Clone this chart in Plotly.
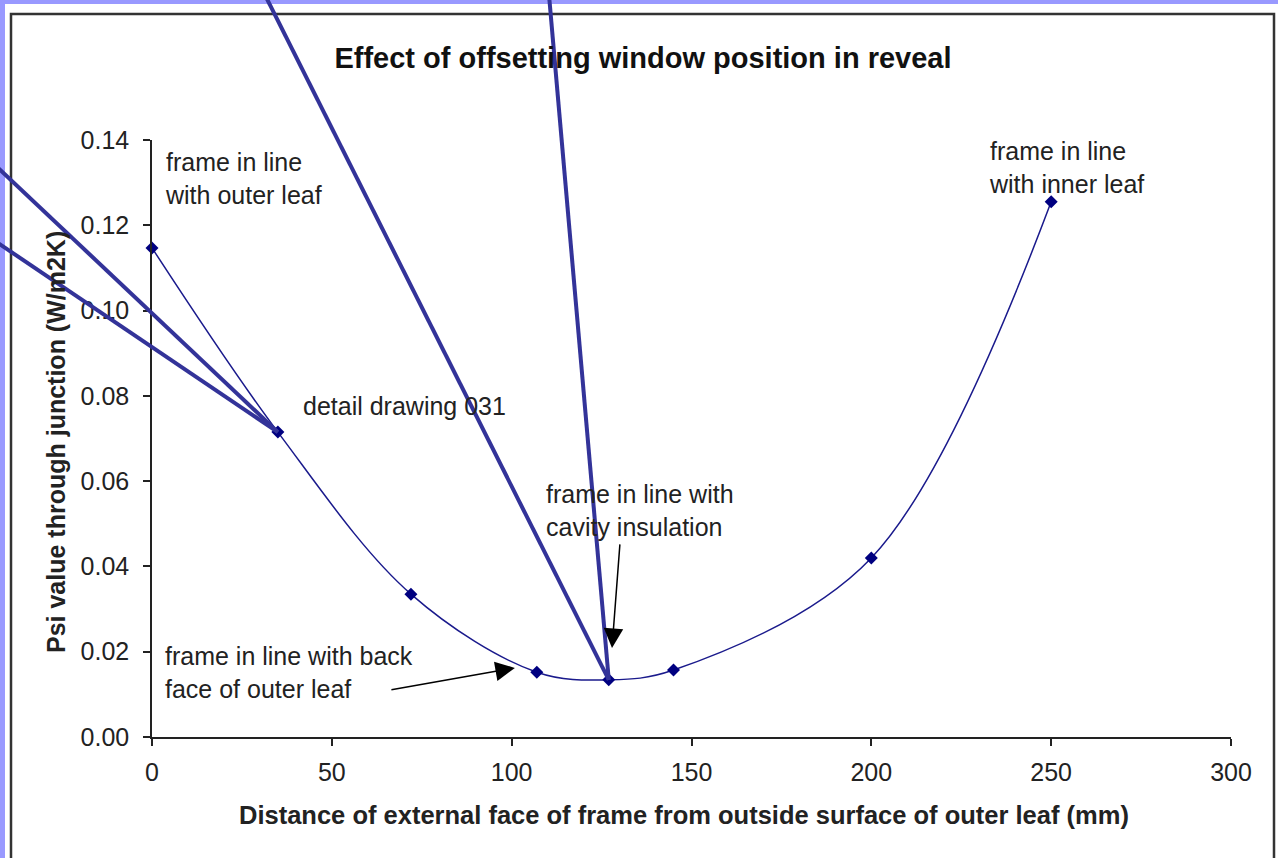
import plotly.graph_objects as go

# ---- data ----
distance_mm = [0, 35, 72, 107, 127, 145, 200, 250]
psi_value = [0.1147, 0.0715, 0.0335, 0.0152, 0.0134, 0.0157, 0.0420, 0.1255]
x_ticks = [0, 50, 100, 150, 200, 250, 300]
y_ticks = [0.00, 0.02, 0.04, 0.06, 0.08, 0.10, 0.12, 0.14]

title_text = "Effect of offsetting window position in reveal"
x_title = "Distance of external face of frame from outside surface of outer leaf (mm)"
y_title = "Psi value through junction (W/m2K)"

# ---- layout geometry ----
W, H = 1278, 858
L, R, T, B = 152, 47, 140, 121
XR = [0, 300]
YR = [0, 0.14]
PW = W - L - R
PH = H - T - B

FONT = "Liberation Sans, Arial, sans-serif"


def px_x(px):
    return (px - L) / PW


def px_y(py):
    return (H - B - py) / PH


def data_px(i):
    xp = (distance_mm[i] - XR[0]) / (XR[1] - XR[0])
    yp = (psi_value[i] - YR[0]) / (YR[1] - YR[0])
    return xp, yp


fig = go.Figure()
fig.add_trace(go.Scatter(
    x=distance_mm, y=psi_value, mode="lines+markers",
    line=dict(color="#1a1a8c", width=1.5, shape="spline", smoothing=1.0),
    marker=dict(symbol="diamond", size=10, color="#000080"),
    showlegend=False, cliponaxis=False,
))

shapes = []
purple = "#9999ff"
# chart frame
shapes.append(dict(type="rect", xref="paper", yref="paper",
                   x0=px_x(11), x1=px_x(1274), y0=px_y(H + 10), y1=px_y(14),
                   fillcolor="rgba(0,0,0,0)", line=dict(color="#333333", width=2.5),
                   layer="below"))
# purple border strips
shapes.append(dict(type="rect", xref="paper", yref="paper",
                   x0=px_x(-2), x1=px_x(5), y0=px_y(H + 5), y1=px_y(-2),
                   fillcolor=purple, line=dict(width=0), layer="above"))
shapes.append(dict(type="rect", xref="paper", yref="paper",
                   x0=px_x(-2), x1=px_x(W + 2), y0=px_y(4), y1=px_y(-2),
                   fillcolor=purple, line=dict(width=0), layer="above"))

# heavy pointer lines
blue = "#333399"
i127 = distance_mm.index(127)
i35 = distance_mm.index(35)
for (sx, sy, idx) in [(265, -5, i127), (549, -5, i127), (-5, 165, i35), (-5, 241, i35)]:
    ex, ey = data_px(idx)
    shapes.append(dict(type="line", xref="paper", yref="paper",
                       x0=px_x(sx), y0=px_y(sy), x1=ex, y1=ey,
                       line=dict(color=blue, width=4), layer="above"))

annotations = []
lab_font = dict(family=FONT, size=25, color="#222222")
labels = [
    ("frame in line<br>with outer leaf", 3.0, 0.1309),
    ("detail drawing 031", 41.5, 0.0776),
    ("frame in line with<br>cavity insulation", 109.0, 0.0531),
    ("frame in line with back<br>face of outer leaf", 3.0, 0.0152),
    ("frame in line<br>with inner leaf", 232.2, 0.1336),
]
for txt, x, y in labels:
    annotations.append(dict(text=txt, x=x, y=y, xref="x", yref="y",
                            xanchor="left", yanchor="middle", align="left",
                            showarrow=False, font=lab_font))

# black arrows
for hx, hy, ax, ay in [(100.9, 0.0162, -125, 22), (127.9, 0.0209, 8, -105)]:
    annotations.append(dict(text="", x=hx, y=hy, xref="x", yref="y",
                            ax=ax, ay=ay, showarrow=True, arrowhead=2,
                            arrowsize=2.6, arrowwidth=1.5, arrowcolor="black",
                            standoff=0, startstandoff=0))

# axis titles
annotations.append(dict(text="<b>" + x_title + "</b>", xref="paper", yref="paper",
                        x=px_x(684), y=px_y(815), xanchor="center", yanchor="middle",
                        showarrow=False, font=dict(family=FONT, size=25.5, color="#222222")))
annotations.append(dict(text="<b>" + y_title + "</b>", xref="paper", yref="paper",
                        x=px_x(56), y=px_y(442), xanchor="center", yanchor="middle",
                        textangle=-90, showarrow=False,
                        font=dict(family=FONT, size=25, color="#222222")))

fig.update_layout(
    width=W, height=H,
    margin=dict(l=L, r=R, t=T, b=B),
    paper_bgcolor="white", plot_bgcolor="white",
    title=dict(text="<b>" + title_text + "</b>", x=643 / W, xanchor="center",
               y=1 - 58 / H, yanchor="middle",
               font=dict(family=FONT, size=29, color="#111111")),
    shapes=shapes, annotations=annotations,
    xaxis=dict(range=XR, tickvals=x_ticks, ticks="outside", ticklen=7,
               tickcolor="#222222", tickwidth=1.5,
               showline=True, linecolor="#222222", linewidth=1.5,
               showgrid=False, zeroline=False, ticklabelstandoff=5,
               tickfont=dict(family=FONT, size=25, color="#222222")),
    yaxis=dict(range=YR, tickvals=y_ticks, tickformat=".2f", ticks="outside",
               ticklen=7, tickcolor="#222222", tickwidth=1.5,
               showline=True, linecolor="#222222", linewidth=1.5,
               showgrid=False, zeroline=False, ticklabelstandoff=9,
               tickfont=dict(family=FONT, size=25, color="#222222")),
)

fig.write_html(
    "out.html",
    config={"displayModeBar": False},
    post_script="document.body.style.margin='0';document.body.style.overflow='hidden';",
)
